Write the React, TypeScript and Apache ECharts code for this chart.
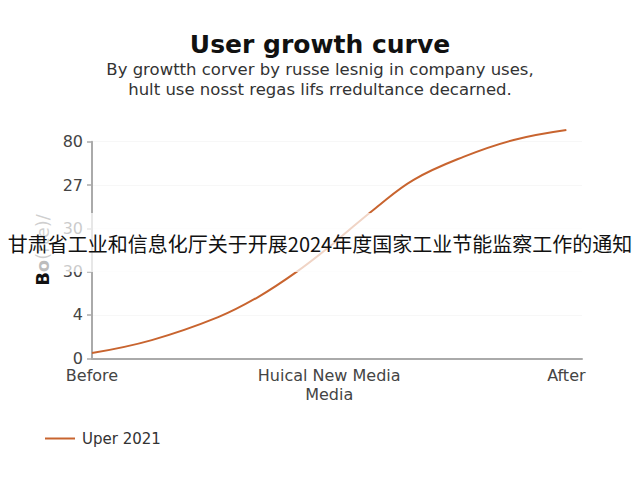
import { useEffect, useRef } from 'react';
import * as echarts from 'echarts';

// 曲线数据
const growthX = [0, 1.26, 2.66, 3.51, 4.32, 5.09, 5.3, 5.97, 6.78, 7.83, 8.89, 10];
const growthY = [0.12, 0.42, 0.95, 1.42, 2.0, 2.65, 2.85, 3.46, 4.12, 4.65, 5.04, 5.27];

const xTickValues = [0, 5, 10];
const xTickLabels = ['Before', 'Huical New Media\nMedia', 'After'];
const yTickValues = [0, 1, 2, 3, 4, 5];
const yTickLabels = ['0', '4', '30', '30', '27', '80'];

const seriesName = 'Uper 2021';
const overlayText = '甘肃省工业和信息化厅关于开展2024年度国家工业节能监察工作的通知';

const FONT = '"DejaVu Sans", "Noto Sans", sans-serif';

const App: React.FC = () => {
    const chartRef = useRef<HTMLDivElement | null>(null);

    useEffect(() => {
        document.body.style.margin = '0';
        if (!chartRef.current) return;
        const chart = echarts.init(chartRef.current, undefined, { renderer: 'svg' });

        chart.setOption({
            animation: false,
            backgroundColor: '#fff',
            title: {
                text: 'User growth curve',
                subtext: 'By growtth corver by russe lesnig in company uses,\nhult use nosst regas lifs rredultance decarned.',
                left: 'center',
                top: 27,
                itemGap: 3,
                textStyle: { fontFamily: FONT, fontSize: 25, fontWeight: 'bold', color: '#111' },
                subtextStyle: { fontFamily: FONT, fontSize: 16.5, color: '#333', lineHeight: 19.5, align: 'center' },
            },
            legend: {
                left: 40,
                top: 426,
                icon: 'rect',
                itemWidth: 30,
                itemHeight: 2,
                itemGap: 10,
                textStyle: { fontFamily: FONT, fontSize: 15, color: '#333', padding: [0, 0, 0, 2] },
                data: [seriesName],
            },
            grid: { left: 92, right: 58, top: 141.7, bottom: 121.7 },
            xAxis: {
                type: 'value',
                min: 0,
                max: 10.33,
                axisLine: { show: true, lineStyle: { color: '#aaa', width: 2 } },
                axisTick: { show: false },
                splitLine: { show: false },
                axisLabel: {
                    customValues: xTickValues,
                    formatter: (v: number) => xTickLabels[xTickValues.indexOf(v)] ?? '',
                    fontFamily: FONT,
                    fontSize: 16,
                    color: '#444',
                    lineHeight: 19,
                    margin: 8,
                },
            },
            yAxis: {
                type: 'value',
                min: 0,
                max: 5,
                interval: 1,
                name: '{a|Bo}{b|(rte)/}',
                nameLocation: 'middle',
                nameRotate: 90,
                nameGap: 40,
                nameTextStyle: {
                    rich: {
                        a: { fontFamily: FONT, fontSize: 18, fontWeight: 'bold', color: '#111' },
                        b: { fontFamily: FONT, fontSize: 18, color: '#555' },
                    },
                },
                axisLine: { show: true, lineStyle: { color: '#aaa', width: 2 } },
                axisTick: { show: true, length: 5, lineStyle: { color: '#aaa', width: 1.5 } },
                splitLine: { show: true, lineStyle: { color: '#f7f7f7' } },
                axisLabel: {
                    formatter: (v: number) => yTickLabels[yTickValues.indexOf(v)] ?? '',
                    fontFamily: FONT,
                    fontSize: 16,
                    color: '#444',
                    margin: 9,
                },
            },
            series: [
                {
                    name: seriesName,
                    type: 'line',
                    smooth: 0.4,
                    symbol: 'none',
                    clip: false,
                    lineStyle: { color: '#c8642f', width: 2 },
                    itemStyle: { color: '#c8642f' },
                    data: growthX.map((x, i) => [x, growthY[i]]),
                },
            ],
            graphic: [
                {
                    type: 'rect',
                    z: 100,
                    shape: { x: 0, y: 213, width: 640, height: 59 },
                    style: { fill: 'rgba(255,255,255,0.72)' },
                },
                {
                    type: 'text',
                    z: 101,
                    x: 320,
                    y: 243,
                    style: {
                        text: overlayText,
                        fontFamily: '"Noto Sans CJK SC", sans-serif',
                        fontSize: 20,
                        fill: '#111',
                        align: 'center',
                        verticalAlign: 'middle',
                    },
                },
            ],
        });

        return () => {
            chart.dispose();
        };
    }, []);

    return <div ref={chartRef} style={{ width: 640, height: 480 }} />;
};

export default App;
